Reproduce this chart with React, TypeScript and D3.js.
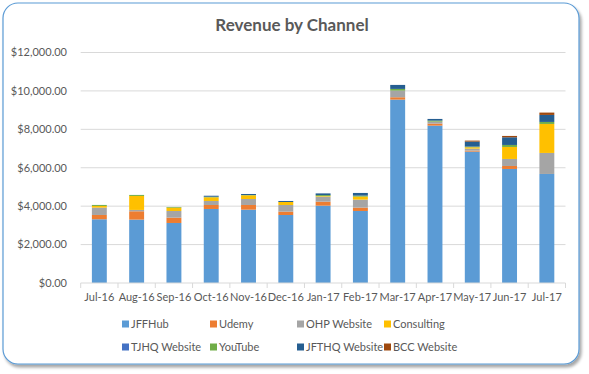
import React from 'react';
import * as d3 from 'd3';

const months = ['Jul-16', 'Aug-16', 'Sep-16', 'Oct-16', 'Nov-16', 'Dec-16', 'Jan-17', 'Feb-17', 'Mar-17', 'Apr-17', 'May-17', 'Jun-17', 'Jul-17'];

const jffHub = [3318, 3300, 3125, 3854, 3819, 3541, 4027, 3750, 9548, 8194, 6840, 5937, 5677];
const udemy = [224, 434, 277, 208, 243, 174, 208, 174, 122, 104, 52, 156, 0];
const ohpWebsite = [382, 70, 347, 208, 312, 347, 260, 417, 347, 104, 104, 365, 1094];
const consulting = [88, 729, 174, 191, 191, 156, 30, 156, 0, 0, 70, 625, 1510];
const tjhqWebsite = [0, 0, 0, 0, 0, 0, 0, 0, 0, 0, 0, 0, 0];
const youTube = [52, 52, 35, 30, 17, 0, 52, 52, 87, 52, 35, 104, 104];
const jfthqWebsite = [0, 0, 0, 52, 52, 52, 88, 139, 208, 87, 260, 399, 365];
const bccWebsite = [0, 0, 0, 0, 0, 0, 0, 0, 0, 0, 52, 70, 122];

const seriesNames = ['JFFHub', 'Udemy', 'OHP Website', 'Consulting', 'TJHQ Website', 'YouTube', 'JFTHQ Website', 'BCC Website'];
const seriesValues = [jffHub, udemy, ohpWebsite, consulting, tjhqWebsite, youTube, jfthqWebsite, bccWebsite];
const colors = ['#5B9BD5', '#ED7D31', '#A5A5A5', '#FFC000', '#4472C4', '#70AD47', '#255E91', '#9E480E'];

const yTicks = [0, 2000, 4000, 6000, 8000, 10000, 12000];

const W = 589;
const H = 374;
const FONT = 'Lato, "Open Sans", sans-serif';

export default function App() {
  const margin = { left: 80.7, right: W - 565.5, top: 52.5, bottom: H - 283 };

  const rows = months.map((m, i) => {
    const r: Record<string, any> = { month: m };
    seriesNames.forEach((s, k) => (r[s] = seriesValues[k][i]));
    return r;
  });
  const stacked = d3.stack<any>().keys(seriesNames)(rows);

  const x = d3.scaleBand().domain(months).range([margin.left, W - margin.right]).paddingInner(0.6).paddingOuter(0.3);
  const y = d3.scaleLinear().domain([0, 12000]).range([H - margin.bottom, margin.top]);
  const step = x.step();
  const fmt = d3.format(',.2f');

  // legend layout (4 columns, 2 rows)
  const legX = [122, 210, 297, 384];
  const legY = [324, 347];

  return (
    <svg width={W} height={H} style={{ position: 'absolute', left: 0, top: 0 }} fontFamily={FONT}>
      <defs>
        <filter id="shadow" x="-5%" y="-5%" width="110%" height="115%">
          <feDropShadow dx="2" dy="3" stdDeviation="1.5" floodColor="#000" floodOpacity="0.35" />
        </filter>
      </defs>
      <rect x={3} y={3} width={576} height={361} rx={15} ry={15} fill="#fff" stroke="#5B9BD5" strokeWidth={1.2} filter="url(#shadow)" />

      <text x={292} y={31} textAnchor="middle" fontSize={17} fontWeight="bold" fill="#595959">Revenue by Channel</text>

      {/* grid + y labels */}
      {yTicks.map(t => (
        <g key={t}>
          {t > 0 && <line x1={margin.left} x2={W - margin.right} y1={y(t)} y2={y(t)} stroke="#D9D9D9" strokeWidth={1} />}
          <text x={67} y={y(t)} dy="0.35em" textAnchor="end" fontSize={11} fill="#595959">${fmt(t)}</text>
        </g>
      ))}

      {/* bars */}
      {stacked.map((layer, k) => (
        <g key={layer.key} fill={colors[k]}>
          {layer.map((d, i) => (
            d[1] - d[0] > 0 ? (
              <rect key={i} x={x(months[i])} width={x.bandwidth()} y={y(d[1])} height={y(d[0]) - y(d[1])} />
            ) : null
          ))}
        </g>
      ))}

      {/* x axis */}
      <line x1={margin.left} x2={W - margin.right} y1={y(0)} y2={y(0)} stroke="#D9D9D9" strokeWidth={1} />
      {d3.range(months.length + 1).map(i => {
        const tx = margin.left + i * step;
        return <line key={i} x1={tx} x2={tx} y1={y(0)} y2={y(0) + 5} stroke="#D9D9D9" />;
      })}
      {months.map(m => (
        <text key={m} x={(x(m) as number) + x.bandwidth() / 2} y={301} textAnchor="middle" fontSize={11} fill="#595959">{m}</text>
      ))}

      {/* legend */}
      {seriesNames.map((s, k) => {
        const lx = legX[k % 4];
        const ly = legY[Math.floor(k / 4)];
        return (
          <g key={s}>
            <rect x={lx} y={ly - 3.5} width={7} height={7} fill={colors[k]} />
            <text x={lx + 9} y={ly} dy="0.35em" fontSize={11} fill="#595959">{s}</text>
          </g>
        );
      })}
    </svg>
  );
}
